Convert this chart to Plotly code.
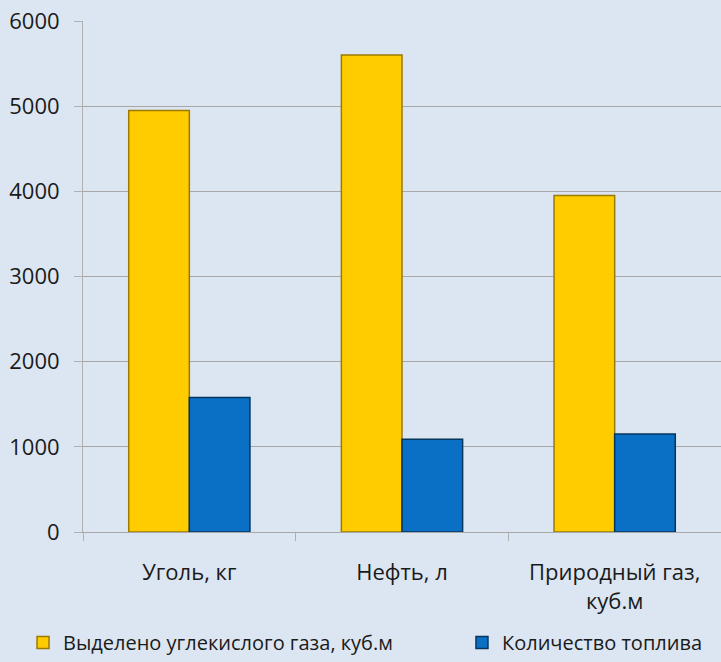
import plotly.graph_objects as go

categories = ["Уголь, кг", "Нефть, л", "Природный газ,<br>куб.м"]
co2_values = [4950, 5600, 3950]
fuel_values = [1580, 1090, 1150]
series_names = ["Выделено углекислого газа, куб.м", "Количество топлива"]
y_ticks = [0, 1000, 2000, 3000, 4000, 5000, 6000]

font_family = "Open Sans, Liberation Sans, sans-serif"

fig = go.Figure()
fig.add_trace(go.Bar(
    x=categories, y=co2_values, name=series_names[0], legend="legend",
    marker=dict(color="#FFCC00", line=dict(color="#9a7a00", width=1.5)),
))
fig.add_trace(go.Bar(
    x=categories, y=fuel_values, name=series_names[1], legend="legend2",
    marker=dict(color="#0A70C6", line=dict(color="#06365e", width=1.5)),
))

legend_common = dict(orientation="h", y=-0.2544, yanchor="bottom", xanchor="left",
                     font=dict(size=20), itemwidth=30, bgcolor="rgba(0,0,0,0)")

fig.update_layout(
    width=721, height=662,
    paper_bgcolor="#DCE6F2", plot_bgcolor="#DCE6F2",
    margin=dict(l=83, r=0, t=21, b=130),
    barmode="group", bargap=0.43, bargroupgap=0,
    font=dict(family=font_family, size=22, color="#1a1a1a"),
    showlegend=True,
    legend=dict(x=-0.094, **legend_common),
    legend2=dict(x=0.594, **legend_common),
)
fig.update_yaxes(
    range=[0, 6000], tickvals=y_ticks, showgrid=True, gridcolor="#A8A8A8", gridwidth=1,
    showline=True, linecolor="#B0B0B0", linewidth=1,
    ticks="outside", ticklen=8, tickcolor="#B0B0B0", zeroline=False,
    tickfont=dict(size=22), ticklabelstandoff=10,
)
fig.update_xaxes(
    showline=True, linecolor="#A8A8A8", linewidth=1,
    ticks="outside", tickson="boundaries", ticklen=8, tickcolor="#B0B0B0",
    tickfont=dict(size=22), range=[-0.5, 2.5], ticklabelstandoff=21,
)

fig.write_html("out.html")
